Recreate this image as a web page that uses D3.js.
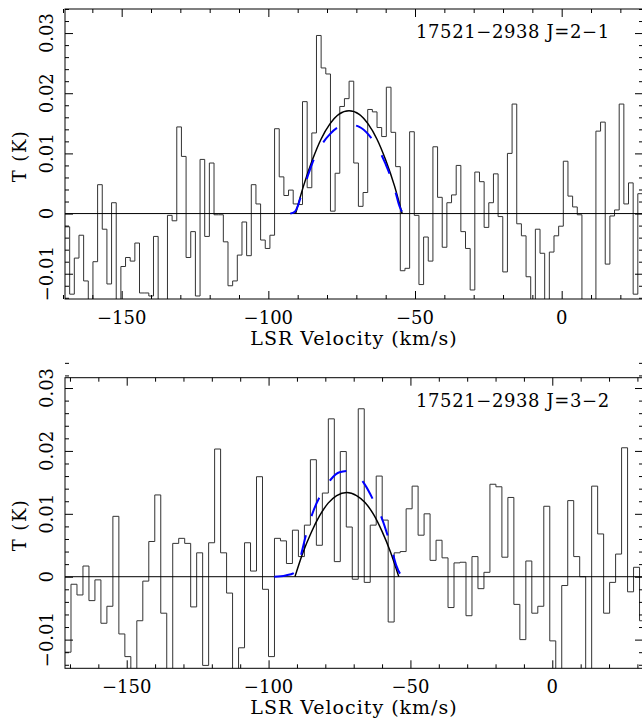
<!DOCTYPE html>
<html>
  <head>
    <meta charset="utf-8">
    <style type="text/css">
      body { margin: 0; background: #fff; }
      svg text { font-family: "DejaVu Serif", serif; font-size: 18px; fill: #000; }
      svg text.xtitle { font-size: 19px; letter-spacing: 1px; }
      svg text.ytitle { letter-spacing: 1.5px; }
      svg text.label { letter-spacing: 0.6px; }
    </style>
    <title>17521-2938 CO spectra</title>
  </head>
  <body>
    <script src="https://cdn.jsdelivr.net/npm/d3@7"></script>
    <script>

/*========== Data ==========*/

// J=2-1 spectrum : first channel velocity (km/s), channel width (km/s), T (K) per channel
const top_v0 = -169.32;
const top_dv = 1.5876;
const top_T = [
  -0.0022, -0.0134, -0.0074, -0.0036, -0.0112, -0.0160, -0.0080, 0.0048, -0.0026, -0.0117,
   0.0018, -0.0160, -0.0088, -0.0073, -0.0079, -0.0049, -0.0132, -0.0132, -0.0137, -0.0038,
  -0.0160, -0.0160, -0.0003, -0.0012, 0.0144, 0.0095, -0.0073, -0.0030, -0.0137, 0.0090,
  -0.0038, 0.0084, -0.0002, -0.0002, -0.0047, -0.0120, -0.0112, -0.0069, -0.0014, -0.0070,
   0.0048, 0.0016, -0.0044, -0.0058, -0.0036, 0.0141, 0.0061, 0.0030, 0.0039, 0.0016,
   0.0015, 0.0186, 0.0043, 0.0134, 0.0296, 0.0242, 0.0232, 0.0004, 0.0067, 0.0178,
   0.0191, 0.0220, 0.0084, 0.0012, 0.0035, 0.0173, 0.0169, 0.0143, 0.0128, 0.0210,
   0.0135, 0.0078, -0.0095, -0.0091, 0.0136, -0.0003, -0.0118, -0.0039, -0.0079, 0.0111,
   0.0027, -0.0056, 0.0018, 0.0031, 0.0080, -0.0030, -0.0058, -0.0127, 0.0069, 0.0053,
  -0.0023, 0.0018, 0.0066, -0.0005, -0.0097, 0.0100, 0.0182, -0.0017, -0.0037, -0.0105,
  -0.0160, -0.0026, -0.0066, -0.0160, -0.0064, -0.0037, -0.0021, 0.0087, 0.0029, 0.0011,
  -0.0002, -0.0160, -0.0160, -0.0160, 0.0137, 0.0152, -0.0084, -0.0004, 0.0006, 0.0182,
   0.0016, 0.0051, -0.0134, 0.0033, 0.0030
];

// J=3-2 spectrum
const bot_v0 = -171.75;
const bot_dv = 2.1094;
const bot_T = [
  -0.0120, -0.0012, -0.0029, 0.0017, -0.0038, -0.0005, -0.0074, -0.0047, 0.0096, -0.0091,
  -0.0127, -0.0170, -0.0070, -0.0007, 0.0056, 0.0130, -0.0058, -0.0170, 0.0053, 0.0061,
   0.0053, -0.0048, 0.0038, -0.0141, 0.0054, 0.0203, 0.0038, -0.0026, -0.0170, -0.0113,
   0.0054, 0.0009, 0.0159, -0.0020, -0.0127, 0.0061, 0.0057, 0.0021, 0.0074, 0.0032,
   0.0082, 0.0186, 0.0050, 0.0133, 0.0251, 0.0024, 0.0199, 0.0079, -0.0004, 0.0267,
  -0.0009, 0.0082, 0.0160, 0.0090, -0.0072, 0.0038, 0.0040, 0.0108, 0.0144, 0.0066,
   0.0100, 0.0026, 0.0058, 0.0030, -0.0049, 0.0022, 0.0023, -0.0062, 0.0032, -0.0019,
   0.0007, 0.0147, 0.0143, 0.0031, 0.0126, -0.0044, -0.0100, 0.0025, -0.0058, -0.0047,
   0.0112, -0.0102, -0.0170, -0.0014, 0.0121, 0.0032, 0.0000, -0.0170, 0.0144, 0.0068,
  -0.0058, -0.0009, 0.0036, 0.0205, -0.0024, 0.0015, -0.0070
];

// fitted profiles (velocity km/s, T K)
const top_fit_v = [-90.7, -88, -85, -82, -79, -76, -72.5, -69, -66, -63, -60, -57, -54.4];
const top_fit_T = [0, 0.0046, 0.0089, 0.0124, 0.0149, 0.0165, 0.0171, 0.0165, 0.0149, 0.0124, 0.0089, 0.0046, 0];
const top_model_v = [-92.5, -91, -90, -89, -87, -85, -82, -79, -76, -72.5, -69, -66, -63, -60, -58, -56.5, -55.5, -54.5, -53, -49.5];
const top_model_T = [0, 0.0003, 0.0012, 0.0027, 0.0056, 0.0084, 0.0113, 0.0132, 0.0144, 0.0148, 0.0144, 0.0132, 0.0112, 0.0082, 0.0057, 0.0033, 0.0015, 0.0004, 0, 0];

const bot_fit_v = [-90.7, -88, -85, -82, -79, -76, -72.4, -69, -66, -63, -60, -57, -54.1];
const bot_fit_T = [0, 0.0037, 0.0070, 0.0097, 0.0117, 0.0129, 0.0134, 0.0129, 0.0118, 0.0099, 0.0072, 0.0039, 0];
const bot_model_v = [-98, -94, -91, -89.5, -88, -86, -84, -81, -78, -75, -72, -69, -66, -63, -60, -58, -56.5, -55, -53.5, -52, -49];
const bot_model_T = [0, 0.0002, 0.0006, 0.0018, 0.0045, 0.0080, 0.0107, 0.0135, 0.0155, 0.0166, 0.0168, 0.0162, 0.0146, 0.0121, 0.0092, 0.0065, 0.0042, 0.0018, 0.0004, 0, 0];

// axis ticks
const x_major = [-150, -100, -50, 0];
const x_minor = [-170, -160, -140, -130, -120, -110, -90, -80, -70, -60, -40, -30, -20, -10, 10, 20, 30];
const y_major = [-0.01, 0, 0.01, 0.02, 0.03];
const y_minor = [-0.014, -0.012, -0.008, -0.006, -0.004, -0.002, 0.002, 0.004, 0.006, 0.008,
                 0.012, 0.014, 0.016, 0.018, 0.022, 0.024, 0.026, 0.028, 0.032, 0.034];

const titles = ["17521\u22122938 J=2\u22121", "17521\u22122938 J=3\u22122"];

/*========== Layout ==========*/
const panels = [
  { left: 65, right: 643, top: 9, bottom: 299, xdom: [-169.32, 27.72], ydom: [-0.0142, 0.0340],
    v0: top_v0, dv: top_dv, T: top_T,
    fit: d3.zip(top_fit_v, top_fit_T), model: d3.zip(top_model_v, top_model_T), title: titles[0] },
  { left: 65, right: 643, top: 377.7, bottom: 668.3, xdom: [-171.75, 31.97], ydom: [-0.01456, 0.03164],
    v0: bot_v0, dv: bot_dv, T: bot_T,
    fit: d3.zip(bot_fit_v, bot_fit_T), model: d3.zip(bot_model_v, bot_model_T), title: titles[1] }
];

var svg = d3.select("body").append("svg")
    .attr("width", 642)
    .attr("height", 724);

const fmtX = d3.format("d");
const fmtY = d => d === 0 ? "0" : d3.format(".2f")(d);

/*========== Draw panels ==========*/
panels.forEach(function(p, n) {
  var x = d3.scaleLinear().domain(p.xdom).range([p.left, p.right]);
  var y = d3.scaleLinear().domain(p.ydom).range([p.bottom, p.top]);
  var g = svg.append("g");

  // clip to frame
  g.append("clipPath").attr("id", "clip" + n)
    .append("rect")
      .attr("x", p.left).attr("y", p.top)
      .attr("width", p.right - p.left).attr("height", p.bottom - p.top);
  var plot = g.append("g").attr("clip-path", `url(#clip${n})`);

  // histogram spectrum
  var pts = p.T.map((t, i) => [p.v0 + i * p.dv, t]);
  pts.push([p.v0 + p.T.length * p.dv, p.T[p.T.length - 1]]);
  var step = d3.line().x(d => x(d[0])).y(d => y(d[1])).curve(d3.curveStepAfter);
  plot.append("path")
      .attr("d", step(pts))
      .attr("fill", "none")
      .attr("stroke", "#333")
      .attr("stroke-width", 1);

  // baseline
  plot.append("line")
      .attr("x1", x(p.xdom[0])).attr("x2", x(p.xdom[1]))
      .attr("y1", y(0)).attr("y2", y(0))
      .attr("stroke", "#000").attr("stroke-width", 1);

  var smooth = d3.line().x(d => x(d[0])).y(d => y(d[1])).curve(d3.curveMonotoneX);
  // fitted shell profile
  plot.append("path")
      .attr("d", smooth(p.fit))
      .attr("fill", "none")
      .attr("stroke", "#000")
      .attr("stroke-width", 1.5);
  // model (blue dashed)
  plot.append("path")
      .attr("d", smooth(p.model))
      .attr("fill", "none")
      .attr("stroke", "#0000ff")
      .attr("stroke-width", 2)
      .attr("stroke-dasharray", "20,20");

  // frame
  g.append("rect")
      .attr("x", p.left).attr("y", p.top)
      .attr("width", p.right - p.left).attr("height", p.bottom - p.top)
      .attr("fill", "none").attr("stroke", "#000").attr("stroke-width", 1);

  // ticks on all four sides, pointing inwards
  function ticks(axis, vals, size, transform) {
    var a = g.append("g")
        .attr("transform", transform)
        .call(axis.tickValues(vals).tickSize(-size).tickSizeOuter(0).tickFormat(""));
    a.select(".domain").remove();
    a.selectAll("line").attr("stroke", "#000");
  }
  ticks(d3.axisBottom(x), x_major, 8, `translate(0,${p.bottom})`);
  ticks(d3.axisBottom(x), x_minor, 4, `translate(0,${p.bottom})`);
  ticks(d3.axisTop(x), x_major, 8, `translate(0,${p.top})`);
  ticks(d3.axisTop(x), x_minor, 4, `translate(0,${p.top})`);
  ticks(d3.axisLeft(y), y_major, 8, `translate(${p.left},0)`);
  ticks(d3.axisLeft(y), y_minor, 4, `translate(${p.left},0)`);
  ticks(d3.axisRight(y), y_major, 8, `translate(${p.right},0)`);
  ticks(d3.axisRight(y), y_minor, 4, `translate(${p.right},0)`);

  // tick labels
  g.selectAll(".xlab").data(x_major).enter().append("text")
      .attr("x", d => x(d))
      .attr("y", p.bottom + 25)
      .attr("text-anchor", "middle")
    .text(fmtX);
  g.selectAll(".ylab").data(y_major).enter().append("text")
      .attr("transform", d => `translate(53,${y(d)}) rotate(-90)`)
      .attr("text-anchor", "middle")
    .text(fmtY);

  // axis titles
  g.append("text")
      .attr("class", "xtitle")
      .attr("x", (p.left + p.right) / 2)
      .attr("y", p.bottom + 46)
      .attr("text-anchor", "middle")
    .text("LSR Velocity (km/s)");
  g.append("text")
      .attr("class", "ytitle")
      .attr("transform", `translate(26,${(p.top + p.bottom) / 2 + 2}) rotate(-90)`)
      .attr("text-anchor", "middle")
    .text("T (K)");

  // source / transition label
  g.append("text")
      .attr("class", "label")
      .attr("x", 416)
      .attr("y", p.top + 29)
    .text(p.title);
});

    </script>
  </body>
</html>
